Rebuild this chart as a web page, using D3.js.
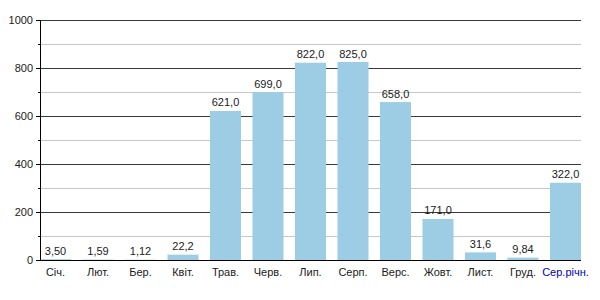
<!DOCTYPE html>
<html>
<head>
<meta charset="utf-8">
<script src="https://cdn.jsdelivr.net/npm/d3@7"></script>
<style>
  body { margin: 0; background: #fff; }
  svg { display: block; font-family: "Liberation Sans", Arial, sans-serif; }
</style>
</head>
<body>
<svg id="chart" width="600" height="300"></svg>
<script>
const categories = ["Січ.", "Лют.", "Бер.", "Квіт.", "Трав.", "Черв.", "Лип.", "Серп.", "Верс.", "Жовт.", "Лист.", "Груд.", "Сер.річн."];
const values = [3.50, 1.59, 1.12, 22.2, 621.0, 699.0, 822.0, 825.0, 658.0, 171.0, 31.6, 9.84, 322.0];
const valueLabels = ["3,50", "1,59", "1,12", "22,2", "621,0", "699,0", "822,0", "825,0", "658,0", "171,0", "31,6", "9,84", "322,0"];
const majorTicks = [0, 200, 400, 600, 800, 1000];
const minorTicks = [100, 300, 500, 700, 900];

const svg = d3.select("#chart");
const mLeft = 40, mRight = 581, mTop = 20, mBottom = 260;

const x = d3.scaleBand().domain(categories).range([mLeft, mRight]).paddingInner(0.27).paddingOuter(0);
const y = d3.scaleLinear().domain([0, 1000]).range([mBottom, mTop]);

// minor gridlines
svg.append("g").selectAll("line").data(minorTicks).join("line")
  .attr("x1", mLeft).attr("x2", mRight)
  .attr("y1", d => Math.round(y(d)) + 0.5).attr("y2", d => Math.round(y(d)) + 0.5)
  .attr("stroke", "#c8c8c8").attr("stroke-width", 1);
// major gridlines
svg.append("g").selectAll("line").data(majorTicks.filter(d => d > 0)).join("line")
  .attr("x1", mLeft).attr("x2", mRight)
  .attr("y1", d => Math.round(y(d)) + 0.5).attr("y2", d => Math.round(y(d)) + 0.5)
  .attr("stroke", "#3a3a3a").attr("stroke-width", 1);

// bars
svg.append("g").selectAll("rect").data(values).join("rect")
  .attr("x", (d, i) => x(categories[i]))
  .attr("width", x.bandwidth())
  .attr("y", d => y(d))
  .attr("height", d => y(0) - y(d))
  .attr("fill", "#9ccde4");

// value labels
svg.append("g").selectAll("text").data(values).join("text")
  .attr("x", (d, i) => x(categories[i]) + x.bandwidth() / 2)
  .attr("y", d => y(d) - 4.5)
  .attr("text-anchor", "middle")
  .attr("font-size", 11)
  .attr("fill", "#1a1a1a")
  .text((d, i) => valueLabels[i]);

// y axis
const yAxis = svg.append("g");
yAxis.append("line").attr("x1", mLeft + 0.5).attr("x2", mLeft + 0.5).attr("y1", mTop).attr("y2", mBottom + 1)
  .attr("stroke", "#000");
yAxis.selectAll("line.major").data(majorTicks).join("line").attr("class", "major")
  .attr("x1", mLeft - 4).attr("x2", mLeft)
  .attr("y1", d => Math.round(y(d)) + 0.5).attr("y2", d => Math.round(y(d)) + 0.5)
  .attr("stroke", "#000");
yAxis.selectAll("line.minor").data(minorTicks).join("line").attr("class", "minor")
  .attr("x1", mLeft - 2).attr("x2", mLeft)
  .attr("y1", d => Math.round(y(d)) + 0.5).attr("y2", d => Math.round(y(d)) + 0.5)
  .attr("stroke", "#000");
yAxis.selectAll("text").data(majorTicks).join("text")
  .attr("x", mLeft - 7).attr("y", d => y(d) + 4)
  .attr("text-anchor", "end").attr("font-size", 11).attr("fill", "#1a1a1a")
  .text(d => d);

// x axis
const xAxis = svg.append("g");
xAxis.append("line").attr("x1", mLeft).attr("x2", mRight).attr("y1", mBottom + 0.5).attr("y2", mBottom + 0.5)
  .attr("stroke", "#000");
xAxis.selectAll("text").data(categories).join("text")
  .attr("x", d => x(d) + x.bandwidth() / 2)
  .attr("y", mBottom + 16)
  .attr("text-anchor", "middle").attr("font-size", 11)
  .attr("fill", (d, i) => i === categories.length - 1 ? "#0000c0" : "#1a1a1a")
  .text(d => d);
</script>
</body>
</html>
